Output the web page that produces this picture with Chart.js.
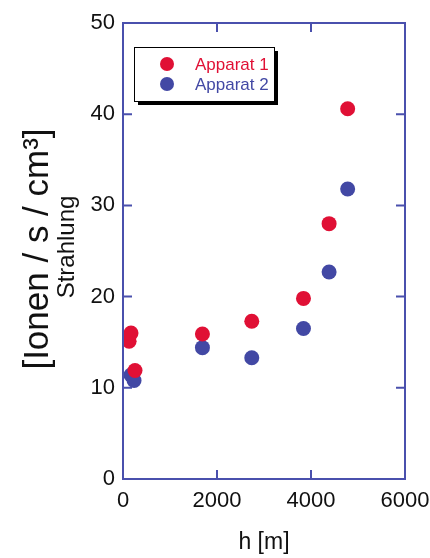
<!DOCTYPE html>
<html>
<head>
<meta charset="utf-8">
<script src="https://cdn.jsdelivr.net/npm/chart.js@4/dist/chart.umd.min.js"></script>
<style>
  html, body { margin: 0; padding: 0; background: #fff; }
  #wrap { width: 430px; height: 558px; position: relative; }
</style>
</head>
<body>
<div id="wrap"><canvas id="c" width="430" height="558"></canvas></div>
<script>
// Ionisation rate measured at different altitudes by two instruments
const heights1 = [130, 170, 255, 1690, 2740, 3840, 4385, 4780];
const apparat1 = [15.1, 16.0, 11.9, 15.9, 17.3, 19.8, 28.0, 40.6];
const heights2 = [170, 235, 1690, 2740, 3840, 4385, 4780];
const apparat2 = [11.4, 10.8, 14.4, 13.3, 16.5, 22.7, 31.8];

const seriesNames = ['Apparat 1', 'Apparat 2'];
const xTicks = [0, 2000, 4000, 6000];
const yTicks = [0, 10, 20, 30, 40, 50];
const xTitle = 'h [m]';
const yTitle = '[Ionen / s / cm\u00B3]';
const ySubTitle = 'Strahlung';

const RED = '#e01035';
const BLUE = '#4248a4';
const AXIS = '#4a50ad';
const FONT = '"Liberation Sans", Arial, sans-serif';

function toPoints(xs, ys) { return xs.map((x, i) => ({ x: x, y: ys[i] })); }

// Box frame with inward ticks on all four sides
const framePlugin = {
  id: 'frame',
  afterDatasetsDraw(chart) {
    const { ctx, chartArea: a, scales } = chart;
    const tl = 9;
    ctx.save();
    ctx.strokeStyle = AXIS;
    ctx.lineWidth = 2;
    ctx.strokeRect(a.left, a.top, a.right - a.left, a.bottom - a.top);
    ctx.beginPath();
    xTicks.forEach(v => {
      const px = scales.x.getPixelForValue(v);
      ctx.moveTo(px, a.bottom); ctx.lineTo(px, a.bottom - tl);
      ctx.moveTo(px, a.top); ctx.lineTo(px, a.top + tl);
    });
    yTicks.forEach(v => {
      const py = scales.y.getPixelForValue(v);
      ctx.moveTo(a.left, py); ctx.lineTo(a.left + tl, py);
      ctx.moveTo(a.right, py); ctx.lineTo(a.right - tl, py);
    });
    ctx.stroke();
    ctx.restore();
  }
};

// Axis titles: large unit label plus smaller quantity name on the y side
const titlePlugin = {
  id: 'titles',
  afterDraw(chart) {
    const { ctx, chartArea: a } = chart;
    ctx.save();
    ctx.fillStyle = '#111';
    ctx.textAlign = 'center';
    ctx.textBaseline = 'middle';
    ctx.font = '23px ' + FONT;
    ctx.fillText(xTitle, (a.left + a.right) / 2, 543);
    const cy = 249;
    ctx.translate(38, cy);
    ctx.rotate(-Math.PI / 2);
    ctx.font = '35px ' + FONT;
    ctx.fillText(yTitle, 0, 0);
    ctx.restore();
    ctx.save();
    ctx.fillStyle = '#111';
    ctx.textAlign = 'center';
    ctx.textBaseline = 'middle';
    ctx.translate(67, 247);
    ctx.rotate(-Math.PI / 2);
    ctx.font = '24px ' + FONT;
    ctx.fillText(ySubTitle, 0, 0);
    ctx.restore();
  }
};

// Boxed legend with drop shadow inside the plot area
const legendPlugin = {
  id: 'boxLegend',
  afterDraw(chart) {
    const { ctx } = chart;
    const x = 134, y = 47, w = 140, h = 54, sh = 4;
    ctx.save();
    ctx.fillStyle = '#000';
    ctx.fillRect(x + sh, y + sh, w, h);
    ctx.fillStyle = '#fff';
    ctx.fillRect(x, y, w, h);
    ctx.strokeStyle = '#000';
    ctx.lineWidth = 1;
    ctx.strokeRect(x + 0.5, y + 0.5, w, h);
    ctx.font = '17px ' + FONT;
    ctx.textBaseline = 'middle';
    ctx.textAlign = 'left';
    chart.data.datasets.forEach((ds, i) => {
      const cy = 64 + i * 20;
      ctx.fillStyle = ds.backgroundColor;
      ctx.beginPath();
      ctx.arc(167, cy, 7, 0, Math.PI * 2);
      ctx.fill();
      ctx.fillText(ds.label, 195, cy + 1);
    });
    ctx.restore();
  }
};

new Chart(document.getElementById('c'), {
  type: 'scatter',
  data: {
    datasets: [
      { label: seriesNames[0], data: toPoints(heights1, apparat1),
        backgroundColor: RED, borderWidth: 0, pointRadius: 7.5, pointHoverRadius: 7.5 },
      { label: seriesNames[1], data: toPoints(heights2, apparat2),
        backgroundColor: BLUE, borderWidth: 0, pointRadius: 7.5, pointHoverRadius: 7.5 }
    ]
  },
  options: {
    responsive: false,
    animation: false,
    events: [],
    layout: { padding: { left: 0, top: 23, right: 25, bottom: 0 } },
    plugins: { legend: { display: false }, tooltip: { enabled: false } },
    scales: {
      x: {
        type: 'linear', min: 0, max: 6000,
        afterBuildTicks: s => { s.ticks = xTicks.map(v => ({ value: v })); },
        afterFit: s => { s.height = 79; s.paddingRight = 0; s.paddingLeft = 0; },
        grid: { display: false, drawTicks: false },
        border: { display: false },
        ticks: { color: '#111', padding: 9, maxRotation: 0, font: { family: FONT, size: 22 },
                 callback: v => String(v) }
      },
      y: {
        type: 'linear', min: 0, max: 50,
        afterBuildTicks: s => { s.ticks = yTicks.map(v => ({ value: v })); },
        afterFit: s => { s.width = 123; s.paddingTop = 0; s.paddingBottom = 0; },
        grid: { display: false, drawTicks: false },
        border: { display: false },
        ticks: { color: '#111', padding: 8, font: { family: FONT, size: 22 },
                 callback: v => String(v) }
      }
    }
  },
  plugins: [framePlugin, titlePlugin, legendPlugin]
});
</script>
</body>
</html>
